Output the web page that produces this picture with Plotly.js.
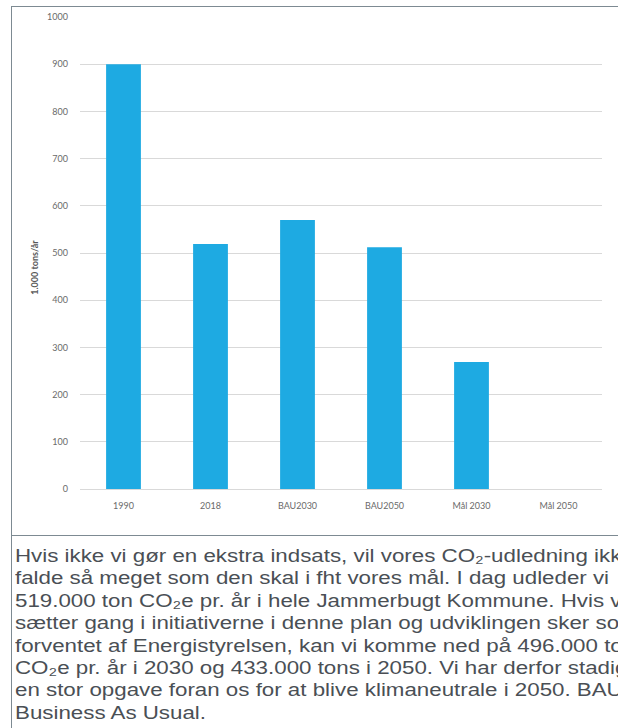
<!DOCTYPE html>
<html>
<head>
<meta charset="utf-8">
<script src="https://cdn.plot.ly/plotly-3.0.1.min.js"></script>
<style>
html,body{margin:0;padding:0;width:618px;height:728px;overflow:hidden;background:#fff;}
#wrap{position:relative;width:618px;height:728px;overflow:hidden;}
#chart{position:absolute;left:0;top:0;width:618px;height:535px;}
.ln{position:absolute;background:#7d8a92;}
#txt{position:absolute;left:15px;top:545px;font-family:"Liberation Sans",Arial,sans-serif;font-size:17.5px;line-height:22.4px;color:#4a4f55;white-space:nowrap;transform:scaleX(1.275);transform-origin:0 0;}
</style>
</head>
<body>
<div id="wrap">
<div id="chart"></div>
<div class="ln" style="left:11px;top:6px;width:607px;height:1px;"></div>
<div class="ln" style="left:11px;top:6px;width:1px;height:722px;"></div>
<div class="ln" style="left:11px;top:535px;width:607px;height:1px;"></div>
<div id="txt"></div>
</div>
<script>
const categories = ["1990", "2018", "BAU2030", "BAU2050", "Mål 2030", "Mål 2050"];
const values = [900, 519, 570, 512, 269, null];
const yTicks = [0, 100, 200, 300, 400, 500, 600, 700, 800, 900, 1000];
const yTitle = "1.000 tons/år";
const textLines = [
  "Hvis ikke vi gør en ekstra indsats, vil vores CO₂-udledning ikke",
  "falde så meget som den skal i fht vores mål. I dag udleder vi",
  "519.000 ton CO₂e pr. år i hele Jammerbugt Kommune. Hvis vi",
  "sætter gang i initiativerne i denne plan og udviklingen sker som",
  "forventet af Energistyrelsen, kan vi komme ned på 496.000 tons",
  "CO₂e pr. år i 2030 og 433.000 tons i 2050. Vi har derfor stadig",
  "en stor opgave foran os for at blive klimaneutrale i 2050. BAU er",
  "Business As Usual."
];

document.getElementById('txt').innerHTML = textLines.join('<br>');

const font = {family: "Lato, 'Open Sans', sans-serif", size: 9, color: "#6a6a6a"};

Plotly.newPlot('chart', [{
  type: 'bar',
  x: categories,
  y: values,
  marker: {color: '#1eaae2'},
  hoverinfo: 'x+y'
}], {
  width: 618,
  height: 535,
  margin: {l: 80, r: 16, t: 17, b: 46},
  paper_bgcolor: '#ffffff',
  plot_bgcolor: '#ffffff',
  bargap: 0.6,
  showlegend: false,
  font: font,
  xaxis: {
    type: 'category',
    categoryorder: 'array',
    categoryarray: categories,
    tickfont: font,
    showgrid: false,
    zeroline: false,
    showline: false,
    ticks: '',
    ticklabelstandoff: 10
  },
  yaxis: {
    range: [0, 1000],
    tickvals: yTicks,
    ticktext: yTicks.map(String),
    tickfont: font,
    showgrid: true,
    gridcolor: '#d9d9d9',
    gridwidth: 1,
    zeroline: true,
    zerolinecolor: '#d9d9d9',
    zerolinewidth: 1,
    showline: false,
    ticks: '',
    ticklabelstandoff: 11
  },
  annotations: [{
    text: '<b>' + yTitle + '</b>',
    xref: 'paper', yref: 'paper',
    x: -0.087, y: 0.47,
    xanchor: 'center', yanchor: 'middle',
    textangle: -90,
    showarrow: false,
    font: {family: "Lato, 'Open Sans', sans-serif", size: 9, color: "#595959"}
  }]
}, {displayModeBar: false, staticPlot: true});
</script>
</body>
</html>
